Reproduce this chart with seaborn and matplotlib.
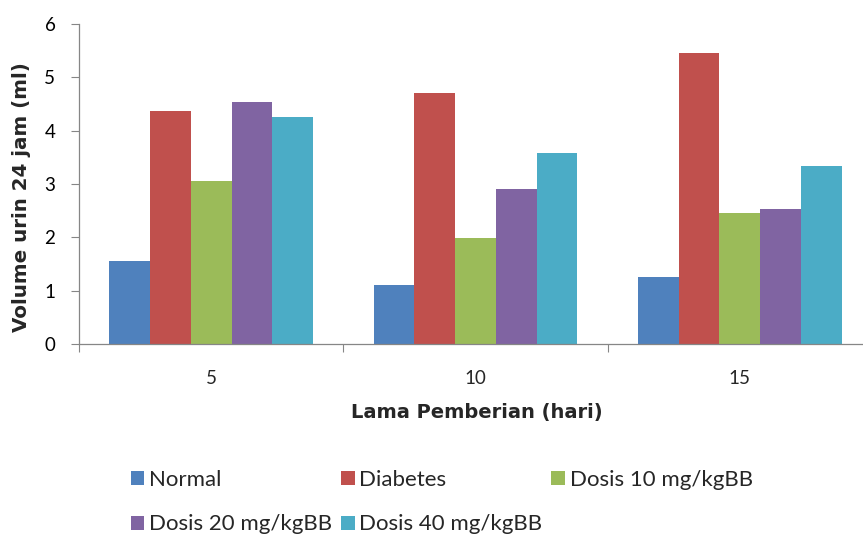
import matplotlib
matplotlib.use("Agg")
import matplotlib.pyplot as plt
import seaborn as sns
import pandas as pd
from matplotlib.ticker import FixedLocator
from matplotlib.patches import Patch

days = ["5", "10", "15"]
groups = ["Normal", "Diabetes", "Dosis 10 mg/kgBB", "Dosis 20 mg/kgBB", "Dosis 40 mg/kgBB"]
normal = [1.56, 1.10, 1.25]
diabetes = [4.36, 4.71, 5.45]
dosis10 = [3.05, 1.98, 2.45]
dosis20 = [4.53, 2.90, 2.53]
dosis40 = [4.26, 3.58, 3.33]
colors = ["#4F81BD", "#C0504D", "#9BBB59", "#8064A2", "#4BACC6"]

series = [normal, diabetes, dosis10, dosis20, dosis40]
rows = []
for g, vals in zip(groups, series):
    for d, v in zip(days, vals):
        rows.append({"Hari": d, "Kelompok": g, "Volume": v})
df = pd.DataFrame(rows)

sns.set_theme(style="white")
plt.rcParams["font.family"] = ["Lato", "DejaVu Sans"]

fig = plt.figure(figsize=(8.63, 5.40), dpi=100)
ax = fig.add_axes([79/863, 1-344/540, (872-79)/863, (344-24)/540])

sns.barplot(data=df, x="Hari", y="Volume", hue="Kelompok", order=days,
            hue_order=groups, palette=colors, width=0.77, gap=0,
            saturation=1, ax=ax, legend=False, linewidth=0)

ax.set_ylim(0, 6)
ax.set_xlim(-0.5, 2.5)
ax.set_yticks(range(0, 7))
ax.tick_params(axis="y", length=6, width=0.8, color="#868686", pad=11,
               labelsize=13.5, labelcolor="#000000", left=True)
ax.tick_params(axis="x", which="major", length=0, pad=19, labelsize=13.5)
ax.xaxis.set_minor_locator(FixedLocator([-0.5, 0.5, 1.5, 2.5]))
ax.tick_params(axis="x", which="minor", length=6, width=0.8, color="#868686", bottom=True)

for s in ["top", "right"]:
    ax.spines[s].set_visible(False)
for s in ["left", "bottom"]:
    ax.spines[s].set_color("#868686")
    ax.spines[s].set_linewidth(0.9)

ax.set_xlabel("Lama Pemberian (hari)", fontsize=14, fontweight="bold",
              family=["DejaVu Sans"])
ax.set_ylabel("Volume urin 24 jam (ml)", fontsize=14.3, fontweight="bold",
              family=["DejaVu Sans"])
ax.xaxis.set_label_coords((477 - 79) / (872 - 79), -59/320)
ax.yaxis.set_label_coords(-(79 - 31) / (872 - 79), (344 - 197.5) / 320)

handles = [Patch(facecolor=c, edgecolor="none") for c in colors]
order = [0, 3, 1, 4, 2]
fig.legend([handles[i] for i in order], [groups[i] for i in order],
           loc="upper left", bbox_to_anchor=(131/863, 1-470/540), ncol=3,
           frameon=False, fontsize=16, handlelength=0.6, handleheight=0.6,
           handletextpad=0.22, columnspacing=0.4, labelspacing=1.1, borderpad=0,
           borderaxespad=0)

fig.savefig("out.png", dpi=100)
